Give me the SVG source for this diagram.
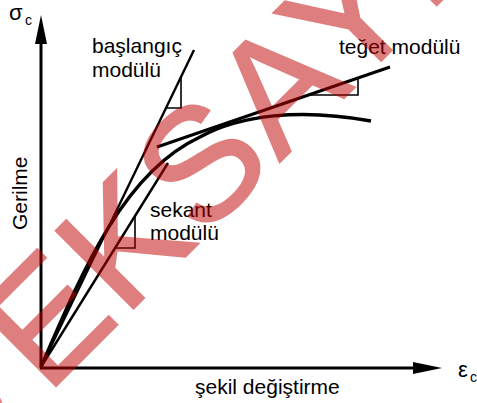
<svg xmlns="http://www.w3.org/2000/svg" width="477" height="403" viewBox="0 0 477 403">
<defs>
<style>
.t{font-family:"Liberation Sans",Arial,sans-serif;font-size:21px;fill:#000}
.ln{fill:none;stroke:#000;stroke-linecap:butt}
.tri{fill:none;stroke:#000;stroke-width:1.6}
.wm{font-family:"Liberation Sans",Arial,sans-serif;font-size:160px;letter-spacing:3px;fill:#c00000;stroke:#c00000;stroke-width:2;opacity:0.5}
</style>
</defs>
<rect width="477" height="403" fill="#fff"/>
<g id="axes">
<line class="ln" x1="41" y1="368" x2="41" y2="40" stroke-width="3"/>
<polygon points="41,15 35,44 47,44" fill="#000"/>
<line class="ln" x1="40" y1="368" x2="418" y2="368" stroke-width="3"/>
<polygon points="442,368 413,362 413,374" fill="#000"/>
</g>
<g id="connectors">
<line id="initial-line" class="ln" x1="41" y1="367" x2="194" y2="50" stroke-width="2.4"/>
<polyline id="initial-tri" class="tri" points="166,108 181,108 181,77"/>
<line id="secant-line" class="ln" x1="41" y1="367" x2="168" y2="163" stroke-width="2.4"/>
<polyline id="secant-tri" class="tri" points="115,248 135,248 135,216"/>
<line id="tangent-line" class="ln" x1="157" y1="147" x2="390" y2="67" stroke-width="3"/>
<polyline id="tangent-tri" class="tri" points="308,95 358,95 358,78"/>
<path id="curve" class="ln" d="M41,367 C85,265 125,172 200,137 C240,115 300,108 371,121" stroke-width="3.5"/>
</g>
<g id="labels">
<g id="sigma"><text class="t" x="9" y="20" style="font-size:22px">σ</text><text class="t" x="25" y="25" style="font-size:14px">c</text></g>
<g id="epsilon"><text class="t" x="458" y="377" style="font-size:22px">ε</text><text class="t" x="470" y="382" style="font-size:14px">c</text></g>
<text id="gerilme" class="t" transform="translate(27,230) rotate(-90)">Gerilme</text>
<g id="baslangic"><text class="t" x="92" y="53">başlangıç</text><text class="t" x="92" y="77">modülü</text></g>
<g id="teget"><text class="t" x="339" y="54">teğet modülü</text></g>
<g id="sekant"><text class="t" x="150" y="217">sekant</text><text class="t" x="150" y="240">modülü</text></g>
<text id="sekil" class="t" x="195" y="394">şekil değiştirme</text>
</g>
<g id="watermark" transform="translate(124,318) rotate(-45)">
<text class="wm" x="-219" y="0">VEKSAYI</text>
</g>
</svg>
